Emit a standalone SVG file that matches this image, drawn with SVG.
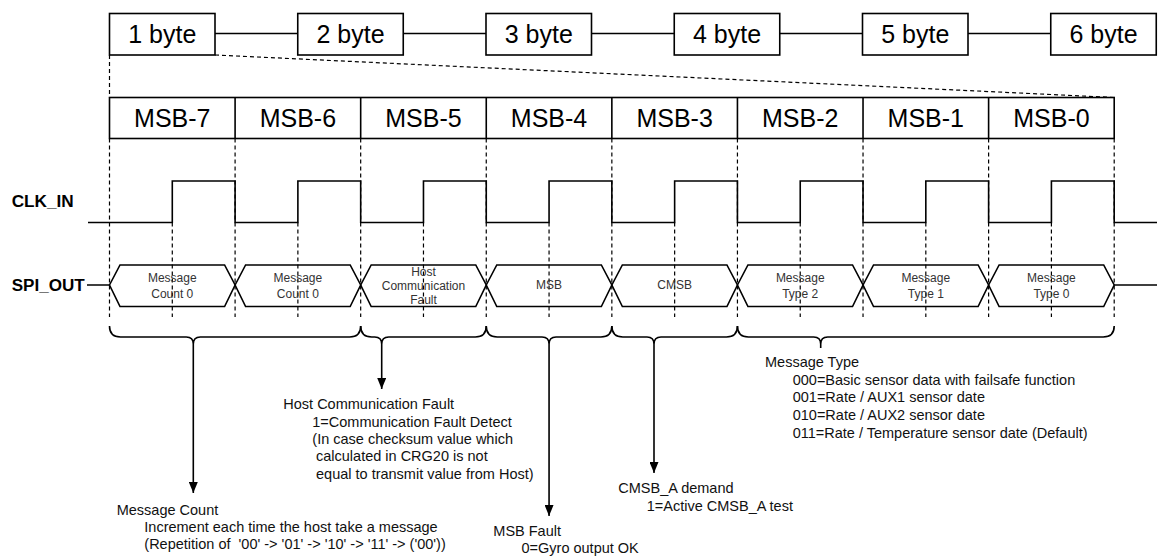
<svg xmlns="http://www.w3.org/2000/svg" width="1165" height="556" viewBox="0 0 1165 556">
  <style>
    .box { fill: #fff; stroke: #000; stroke-width: 1.6; }
    .wire { fill: none; stroke: #000; stroke-width: 1.6; }
    .guide { fill: none; stroke: #000; stroke-width: 1.2; stroke-dasharray: 4 3; }
    .big { font-family: "Liberation Sans", Arial, sans-serif; font-size: 25px; fill: #000; text-anchor: middle; }
    .sig { font-family: "Liberation Sans", Arial, sans-serif; font-size: 16px; font-weight: bold; fill: #000; }
    .cell { font-family: "Liberation Sans", Arial, sans-serif; font-size: 12px; fill: #333; text-anchor: middle; }
    .note { font-family: "Liberation Sans", Arial, sans-serif; font-size: 14.5px; fill: #111; }
  </style>
  <defs>
    <marker id="arrow" markerUnits="userSpaceOnUse" markerWidth="10" markerHeight="9" refX="11" refY="4.5" orient="auto">
      <path d="M0,0 L11,4.5 L0,9 z" fill="#000"/>
    </marker>
  </defs>

  <rect width="1165" height="556" fill="#fff"/>

  <!-- byte chain -->
  <g id="byte-links" class="wire">
    <path d="M215,33.5 H297.75 M403.25,33.5 H486 M591.5,33.5 H674.25 M779.75,33.5 H862.5 M968,33.5 H1050.75"/>
  </g>
  <g id="byte1"><rect class="box" x="109.5" y="13.5" width="105.5" height="41.5"/><text class="big" x="162.25" y="43.3">1 byte</text></g>
  <g id="byte2"><rect class="box" x="297.75" y="13.5" width="105.5" height="41.5"/><text class="big" x="350.5" y="43.3">2 byte</text></g>
  <g id="byte3"><rect class="box" x="486" y="13.5" width="105.5" height="41.5"/><text class="big" x="538.75" y="43.3">3 byte</text></g>
  <g id="byte4"><rect class="box" x="674.25" y="13.5" width="105.5" height="41.5"/><text class="big" x="727" y="43.3">4 byte</text></g>
  <g id="byte5"><rect class="box" x="862.5" y="13.5" width="105.5" height="41.5"/><text class="big" x="915.25" y="43.3">5 byte</text></g>
  <g id="byte6"><rect class="box" x="1050.75" y="13.5" width="105.5" height="41.5"/><text class="big" x="1103.5" y="43.3">6 byte</text></g>

  <!-- expansion of byte 1 into bits, and timing guides -->
  <g id="connectors">
    <path class="guide" d="M109.5,55 V97.5 M215,55 L1114.2,97.5"/>
    <path class="guide" d="M109.5,138.5 V317 M235.09,138.5 V317 M360.68,138.5 V317 M486.26,138.5 V317 M611.85,138.5 V317 M737.44,138.5 V317 M863.03,138.5 V317 M988.61,138.5 V317 M1114.2,138.5 V317"/>
    <path class="guide" d="M172.29,222.5 V317 M297.88,222.5 V317 M423.47,222.5 V317 M549.06,222.5 V317 M674.64,222.5 V317 M800.23,222.5 V317 M925.82,222.5 V317 M1051.41,222.5 V317"/>
  </g>

  <!-- bit cells -->
  <g id="bits">
    <rect class="box" x="109.5" y="97.5" width="1004.7" height="41"/>
    <path class="wire" d="M235.09,97.5 V138.5 M360.68,97.5 V138.5 M486.26,97.5 V138.5 M611.85,97.5 V138.5 M737.44,97.5 V138.5 M863.03,97.5 V138.5 M988.61,97.5 V138.5"/>
    <text class="big" x="172.29" y="126.7">MSB-7</text>
    <text class="big" x="297.88" y="126.7">MSB-6</text>
    <text class="big" x="423.47" y="126.7">MSB-5</text>
    <text class="big" x="549.06" y="126.7">MSB-4</text>
    <text class="big" x="674.64" y="126.7">MSB-3</text>
    <text class="big" x="800.23" y="126.7">MSB-2</text>
    <text class="big" x="925.82" y="126.7">MSB-1</text>
    <text class="big" x="1051.41" y="126.7">MSB-0</text>
  </g>

  <!-- clock waveform -->
  <g id="clk-in">
    <text class="sig" x="11.7" y="207.3" textLength="62" lengthAdjust="spacingAndGlyphs">CLK_IN</text>
    <path class="wire" d="M88,222.5 H172.29 V181 H235.09 V222.5 H297.88 V181 H360.68 V222.5 H423.47 V181 H486.26 V222.5 H549.06 V181 H611.85 V222.5 H674.64 V181 H737.44 V222.5 H800.23 V181 H863.03 V222.5 H925.82 V181 H988.61 V222.5 H1051.41 V181 H1114.2 V222.5 H1157"/>
  </g>

  <!-- serial data waveform -->
  <g id="spi-out">
    <text class="sig" x="11.7" y="290.7" textLength="73" lengthAdjust="spacingAndGlyphs">SPI_OUT</text>
    <path class="wire" d="M87,285 H109.5 M1114.2,285 H1157"/>
    <path class="wire" d="M109.5,285 L120,265 H224.59 L235.09,285 L224.59,306.5 H120 Z"/>
    <path class="wire" d="M235.09,285 L245.59,265 H350.18 L360.68,285 L350.18,306.5 H245.59 Z"/>
    <path class="wire" d="M360.68,285 L371.18,265 H475.76 L486.26,285 L475.76,306.5 H371.18 Z"/>
    <path class="wire" d="M486.26,285 L496.76,265 H601.35 L611.85,285 L601.35,306.5 H496.76 Z"/>
    <path class="wire" d="M611.85,285 L622.35,265 H726.94 L737.44,285 L726.94,306.5 H622.35 Z"/>
    <path class="wire" d="M737.44,285 L747.94,265 H852.53 L863.03,285 L852.53,306.5 H747.94 Z"/>
    <path class="wire" d="M863.03,285 L873.53,265 H978.11 L988.61,285 L978.11,306.5 H873.53 Z"/>
    <path class="wire" d="M988.61,285 L999.11,265 H1103.7 L1114.2,285 L1103.7,306.5 H999.11 Z"/>
    <text class="cell" x="172.29" y="282">Message</text>
    <text class="cell" x="172.29" y="297.5">Count 0</text>
    <text class="cell" x="297.88" y="282">Message</text>
    <text class="cell" x="297.88" y="297.5">Count 0</text>
    <text class="cell" x="423.47" y="275.5">Host</text>
    <text class="cell" x="423.47" y="289.5">Communication</text>
    <text class="cell" x="423.47" y="303.5">Fault</text>
    <text class="cell" x="549.06" y="289">MSB</text>
    <text class="cell" x="674.64" y="289">CMSB</text>
    <text class="cell" x="800.23" y="282">Message</text>
    <text class="cell" x="800.23" y="297.5">Type 2</text>
    <text class="cell" x="925.82" y="282">Message</text>
    <text class="cell" x="925.82" y="297.5">Type 1</text>
    <text class="cell" x="1051.41" y="282">Message</text>
    <text class="cell" x="1051.41" y="297.5">Type 0</text>
  </g>

  <!-- field braces and their call-outs -->
  <g id="brace-message-count">
    <path class="wire" d="M109.5,326 Q109.5,337 120.5,337 H186.3 Q193.3,337 193.3,344 Q193.3,337 200.3,337 H349.7 Q360.68,337 360.68,326"/>
    <path class="wire" d="M193.3,344 V493" marker-end="url(#arrow)"/>
    <text class="note" x="116.7" y="514.5">Message Count</text>
    <text class="note" x="144.3" y="532">Increment each time the host take a message</text>
    <text class="note" x="144.3" y="549" xml:space="preserve">(Repetition of  '00' -&gt; '01' -&gt; '10' -&gt; '11' -&gt; ('00'))</text>
  </g>
  <g id="brace-host-fault">
    <path class="wire" d="M360.68,326 Q360.68,337 371.68,337 H374.7 Q381.7,337 381.7,344 Q381.7,337 388.7,337 H475.3 Q486.26,337 486.26,326"/>
    <path class="wire" d="M381.7,344 V389" marker-end="url(#arrow)"/>
    <text class="note" x="283.3" y="409.3">Host Communication Fault</text>
    <text class="note" x="312.3" y="426.6">1=Communication Fault Detect</text>
    <text class="note" x="312.3" y="443.9">(In case checksum value which</text>
    <text class="note" x="316" y="461.2">calculated in CRG20 is not</text>
    <text class="note" x="316" y="478.5">equal to transmit value from Host)</text>
  </g>
  <g id="brace-msb-fault">
    <path class="wire" d="M486.26,326 Q486.26,337 497.26,337 H542 Q549.06,337 549.06,344 Q549.06,337 556.06,337 H600.85 Q611.85,337 611.85,326"/>
    <path class="wire" d="M549.06,344 V516" marker-end="url(#arrow)"/>
    <text class="note" x="493.3" y="535.5">MSB Fault</text>
    <text class="note" x="521.5" y="553">0=Gyro output OK</text>
  </g>
  <g id="brace-cmsb">
    <path class="wire" d="M611.85,326 Q611.85,337 622.85,337 H647 Q654,337 654,344 Q654,337 661,337 H726.44 Q737.44,337 737.44,326"/>
    <path class="wire" d="M654,344 V473" marker-end="url(#arrow)"/>
    <text class="note" x="618.3" y="492.7">CMSB_A demand</text>
    <text class="note" x="646.7" y="510.7">1=Active CMSB_A test</text>
  </g>
  <g id="brace-message-type">
    <path class="wire" d="M737.44,326 Q737.44,337 748.44,337 H813.7 Q820.7,337 820.7,344 V348 M820.7,344 Q820.7,337 827.7,337 H1103.2 Q1114.2,337 1114.2,326"/>
    <text class="note" x="765" y="366.7">Message Type</text>
    <text class="note" x="792.7" y="384.5">000=Basic sensor data with failsafe function</text>
    <text class="note" x="792.7" y="402.3">001=Rate / AUX1 sensor date</text>
    <text class="note" x="792.7" y="420">010=Rate / AUX2 sensor date</text>
    <text class="note" x="792.7" y="437.8">011=Rate / Temperature sensor date (Default)</text>
  </g>
</svg>
